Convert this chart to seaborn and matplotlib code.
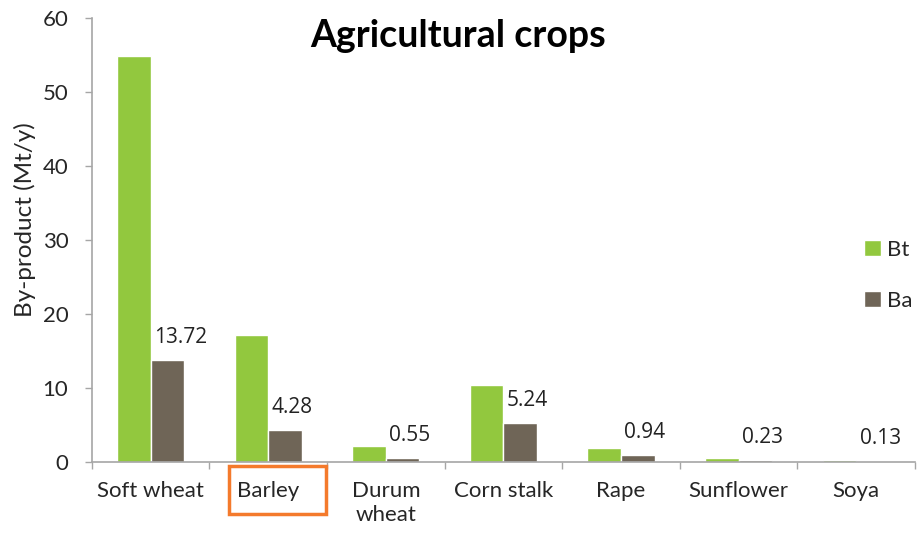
import matplotlib
matplotlib.use("Agg")
import matplotlib.pyplot as plt
from matplotlib.patches import Rectangle
import pandas as pd
import seaborn as sns

# data
crops = ["Soft wheat", "Barley", "Durum\nwheat", "Corn stalk", "Rape", "Sunflower", "Soya"]
bt = [54.8, 17.2, 2.2, 10.4, 1.85, 0.5, 0.25]
ba = [13.72, 4.28, 0.55, 5.24, 0.94, 0.23, 0.13]
ba_labels = ["13.72", "4.28", "0.55", "5.24", "0.94", "0.23", "0.13"]
yticks = [0, 10, 20, 30, 40, 50, 60]

df = pd.DataFrame({
    "crop": crops * 2,
    "series": ["Bt"] * len(crops) + ["Ba"] * len(crops),
    "value": bt + ba,
})

sns.set_style("white")
plt.rcParams["font.family"] = ["Lato", "DejaVu Sans"]

green = "#92C83E"
brown = "#6F6557"
grey = "#A6A6A6"

fig = plt.figure(figsize=(9.19, 5.35), dpi=100)
ax = fig.add_axes([0.100, 0.1364, 0.8956, 0.830])

sns.barplot(data=df, x="crop", y="value", hue="series", order=crops,
            hue_order=["Bt", "Ba"], palette=[green, brown], width=0.57,
            saturation=1, ax=ax, legend=True)

# data labels above Ba bars
ba_bars = ax.containers[1]
for rect, lab in zip(ba_bars, ba_labels):
    ax.annotate(lab, (rect.get_x(), rect.get_height()),
                xytext=(2.5, 16.5), textcoords="offset points",
                ha="left", va="center", fontsize=15, color="#222222",
                family=["Open Sans", "DejaVu Sans"])

ax.set_ylim(0, 60)
ax.set_xlim(-0.5, len(crops) - 0.5)
ax.set_yticks(yticks)
ax.set_xlabel("")
ax.set_ylabel("By-product (Mt/y)", fontsize=17.5)
ax.yaxis.set_label_coords(-0.068, 0.545)

for s in ["top", "right"]:
    ax.spines[s].set_visible(False)
for s in ["left", "bottom"]:
    ax.spines[s].set_color(grey)
    ax.spines[s].set_linewidth(1.2)

ax.tick_params(axis="y", left=True, length=5, width=1, color=grey,
               labelsize=16, pad=12)
ax.tick_params(axis="x", which="major", length=0, labelsize=16, pad=14)
ax.set_xticks([i - 0.5 for i in range(len(crops) + 1)], minor=True)
ax.tick_params(axis="x", which="minor", bottom=True, length=5, width=1,
               color=grey)
for t in ax.get_xticklabels():
    t.set_verticalalignment("top")

ax.set_title("Agricultural crops", fontsize=27, fontweight="bold",
             y=0.915, x=0.445, color="black")

# highlight box around Barley label
box = Rectangle((0.166, -0.118), 0.118, 0.108, transform=ax.transAxes,
                fill=False, edgecolor="#F47A2C", linewidth=2.5, clip_on=False)
ax.add_patch(box)

leg = ax.legend(loc="center left", bbox_to_anchor=(0.938, 0.42), frameon=False,
                fontsize=16, handlelength=0.75, handleheight=0.75,
                labelspacing=1.4, handletextpad=0.3, borderaxespad=0,
                borderpad=0)

fig.savefig("out.png", dpi=100)
